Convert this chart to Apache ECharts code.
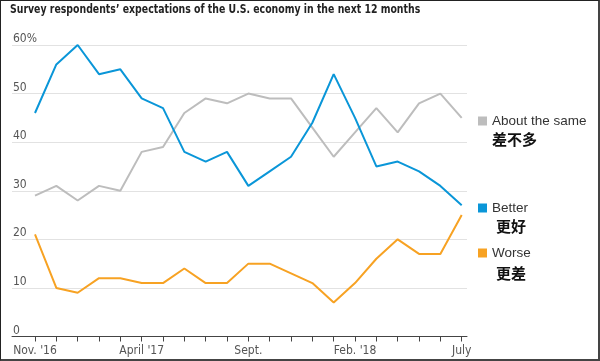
<!DOCTYPE html>
<html>
<head>
<meta charset="utf-8">
<script src="https://cdn.jsdelivr.net/npm/echarts@6/dist/echarts.min.js"></script>
<style>
  html, body { margin: 0; padding: 0; background: #fff; }
  #wrap { position: relative; width: 600px; height: 361px; }
  #chart { position: absolute; left: 0; top: 0; width: 600px; height: 361px; }
  #frame { position: absolute; left: 0; top: 0; width: 600px; height: 361px; box-sizing: border-box;
           border: 1px solid #222; border-right: 2px solid #444; border-bottom: 2px solid #444; pointer-events: none; }
</style>
</head>
<body>
<div id="wrap"><div id="chart"></div><div id="frame"></div></div>
<script>
const months = ["Nov. '16","Dec.","Jan. '17","Feb.","March","April '17","May","June","July '17","Aug.","Sept.","Oct.","Nov.","Dec. '17","Jan. '18","Feb. '18","March '18","April '18","May '18","June '18","July"];
const aboutSame = [29,31,28,31,30,38,39,46,49,48,50,49,49,43,37,42,47,42,48,50,45];
const better    = [46,56,60,54,55,49,47,38,36,38,31,34,37,44,54,45,35,36,34,31,27];
const worse     = [21,10,9,12,12,11,11,14,11,11,15,15,13,11,7,11,16,20,17,17,25];
const yTicks = [0,10,20,30,40,50,60];
const seriesNames = ["About the same","Better","Worse"];
const seriesNamesZh = ["差不多","更好","更差"];
const titleText = "Survey respondents\u2019 expectations of the U.S. economy in the next 12 months";
const colors = ["#bdbdbd","#0a96d8","#f7a223"];

const narrow = "'DejaVu Sans Condensed', 'Liberation Sans', sans-serif";
const chart = echarts.init(document.getElementById('chart'), null, {renderer: 'canvas'});

const legendTops = [114, 201, 246];
const zhPos = [[492, 141], [496, 228], [496, 275]];

chart.setOption({
  animation: false,
  backgroundColor: '#fff',
  grid: [
    { left: 12, right: 133, top: 45, bottom: 24.5 },
    { left: 35, right: 138.3, top: 45, bottom: 24.5 }
  ],
  xAxis: [
    { gridIndex: 0, type: 'value', min: 0, max: 1, show: true,
      axisLine: { show: true, lineStyle: { color: '#444', width: 1 } },
      axisTick: { show: false }, axisLabel: { show: false }, splitLine: { show: false } },
    { gridIndex: 1, type: 'category', data: months, boundaryGap: false,
      axisLine: { show: false },
      axisTick: { show: true, interval: 0, length: 5, lineStyle: { color: '#444' } },
      axisLabel: { interval: 4, margin: 8, fontFamily: narrow, fontSize: 12, color: '#555' },
      splitLine: { show: false } }
  ],
  yAxis: [
    { gridIndex: 0, type: 'value', min: 0, max: 60, interval: 10,
      axisLine: { show: false }, axisTick: { show: false },
      axisLabel: { inside: true, margin: 1, verticalAlign: 'bottom', padding: 0,
        fontFamily: narrow, fontSize: 12, color: '#555',
        formatter: v => (v === yTicks[yTicks.length-1] ? v + '%' : String(v)) },
      splitLine: { show: true, lineStyle: { color: '#e2e2e2', width: 1 } } },
    { gridIndex: 1, type: 'value', min: 0, max: 60, interval: 10, show: false,
      splitLine: { show: false } }
  ],
  legend: seriesNames.map((n, i) => ({
    data: [n], left: 478, top: legendTops[i], orient: 'vertical', padding: 0,
    icon: 'rect', itemWidth: 9, itemHeight: 9, selectedMode: false,
    textStyle: { fontFamily: "'Liberation Sans', Arial, sans-serif", fontSize: 13.5, color: '#333' }
  })),
  graphic: [
    { type: 'text', x: 10, y: 3, scaleX: 0.8, scaleY: 1,
      style: { text: titleText, font: "bold 13px 'DejaVu Sans Condensed', sans-serif", fill: '#222' } }
  ].concat(seriesNamesZh.map((t, i) => ({
    type: 'text', left: zhPos[i][0], top: zhPos[i][1] - 9,
    style: { text: t, font: "bold 15px 'Noto Sans CJK SC', sans-serif", fill: '#111' }
  }))),
  series: [
    { name: seriesNames[0], type: 'line', xAxisIndex: 1, yAxisIndex: 1, data: aboutSame,
      showSymbol: false, symbol: 'none', itemStyle: { color: colors[0] }, lineStyle: { color: colors[0], width: 2 } },
    { name: seriesNames[2], type: 'line', xAxisIndex: 1, yAxisIndex: 1, data: worse,
      showSymbol: false, symbol: 'none', itemStyle: { color: colors[2] }, lineStyle: { color: colors[2], width: 2 } },
    { name: seriesNames[1], type: 'line', xAxisIndex: 1, yAxisIndex: 1, data: better,
      showSymbol: false, symbol: 'none', itemStyle: { color: colors[1] }, lineStyle: { color: colors[1], width: 2 } }
  ]
});
</script>
</body>
</html>
